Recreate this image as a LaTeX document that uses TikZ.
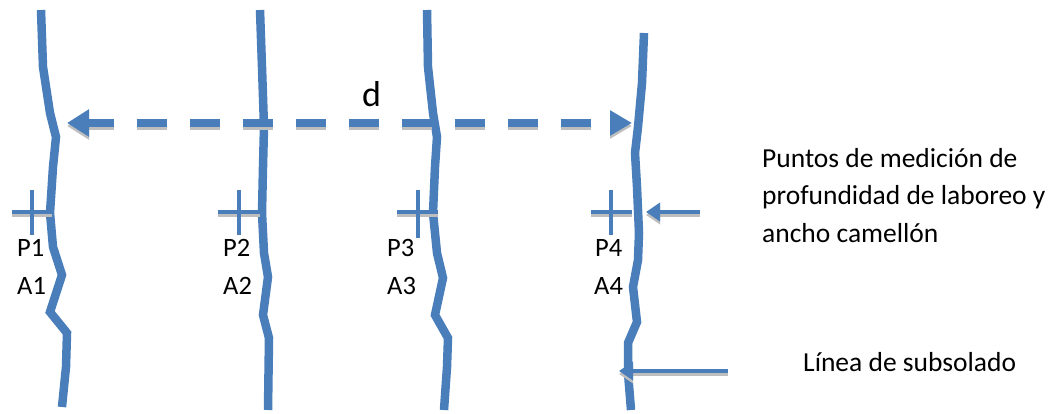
\documentclass[tikz,border=0pt]{standalone}
\usepackage{fontspec}
\setmainfont{Carlito}
\usetikzlibrary{arrows.meta}
\definecolor{lineblue}{RGB}{74,126,187}
\definecolor{shadowgray}{RGB}{190,190,190}
\tikzset{
  furrow/.style={draw=lineblue, line width=8.5pt},
  crossbar/.style={draw=lineblue, line width=4.2pt},
  crossshadow/.style={draw=shadowgray, line width=4.2pt},
  dimline/.style={draw=lineblue, line width=7.5pt, dash pattern=on 30pt off 23pt, dash phase=4pt,
    {Triangle[length=22pt,width=26pt]}-{Triangle[length=22pt,width=24pt]}},
  dimshadow/.style={draw=shadowgray, line width=7.5pt, dash pattern=on 30pt off 23pt, dash phase=4pt,
    {Triangle[length=22pt,width=26pt]}-{Triangle[length=22pt,width=24pt]}},
  pointer/.style={draw=lineblue, line width=4pt, -{Triangle[length=14pt,width=18pt]}},
  pointershadow/.style={draw=shadowgray, line width=4pt, -{Triangle[length=14pt,width=18pt]}},
  lbl/.style={inner sep=0pt, anchor=base west, font=\fontsize{26.5}{26.5}\selectfont},
  note/.style={inner sep=0pt, anchor=base west, font=\fontsize{27.5}{27.5}\selectfont},
}
\begin{document}
\begin{tikzpicture}[x=1pt,y=-1pt]
\useasboundingbox (0,0) rectangle (1052,414);
% furrow lines
\draw[furrow] (41,10) -- (43,67) -- (50,113) -- (56,137) -- (53,167) -- (50,213) -- (53,247) -- (62,275) -- (50,312) -- (67,333) -- (66,367) -- (62,407);
\draw[furrow] (260,10) -- (262,67) -- (264,127) -- (263,167) -- (262,213) -- (264,253) -- (268,277) -- (263,315) -- (269,338) -- (268,410);
\draw[furrow] (427,10) -- (428,67) -- (433,113) -- (437,137) -- (435,167) -- (433,213) -- (437,253) -- (443,278) -- (435,315) -- (448,338) -- (447,367) -- (444,410);
\draw[furrow] (644,33) -- (642,83) -- (638,127) -- (635,153) -- (637,187) -- (639,233) -- (638,260) -- (633,287) -- (637,322) -- (628,343) -- (628,373) -- (631,410);
% dimension arrow
\coordinate (dL) at (67,123);
\coordinate (dR) at (632,123);
\draw[dimshadow] ([yshift=-3pt]dL) -- ([yshift=-3pt]dR);
\draw[dimline] (dL) -- (dR);
\node[inner sep=0pt, anchor=base west, font=\fontsize{36}{36}\selectfont] (dlab) at (362,107) {d};
% measurement crosses
\foreach \hx/\hy/\vx/\vb [count=\i] in {12/52/32/235, 218/260/239/235, 397/438/418/238, 591/632/611/235}{
  \coordinate (h\i a) at (\hx,212);
  \coordinate (h\i b) at (\hy,212);
  \coordinate (v\i a) at (\vx,190);
  \coordinate (v\i b) at (\vx,\vb);
  \draw[crossshadow] ([yshift=-3pt]h\i a) -- ([yshift=-3pt]h\i b);
  \draw[crossbar] (h\i a) -- (h\i b);
  \draw[crossbar] (v\i a) -- (v\i b);
}
% labels P/A
\node[lbl] (p1) at (17,256) {P1};
\node[lbl] (a1) at (17,294) {A1};
\node[lbl] (p2) at (223,256) {P2};
\node[lbl] (a2) at (223,294) {A2};
\node[lbl] (p3) at (387,256) {P3};
\node[lbl] (a3) at (387,294) {A3};
\node[lbl] (p4) at (595,256) {P4};
\node[lbl] (a4) at (594,294) {A4};
% explanatory notes
\node[note] (n1) at (762,168) {Puntos de medición de};
\node[note] (n2) at (762,205) {profundidad de laboreo y};
\node[note] (n3) at (762,242) {ancho camellón};
\node[note] (n4) at (803,371) {Línea de subsolado};
% pointers
\coordinate (pt1s) at (700,212);
\coordinate (pt1e) at (646,212);
\draw[pointershadow] ([yshift=-3pt]pt1s) -- ([yshift=-3pt]pt1e);
\draw[pointer] (pt1s) -- (pt1e);
\coordinate (pt2s) at (728,371);
\coordinate (pt2e) at (619,371);
\draw[pointershadow] ([yshift=-3pt]pt2s) -- ([yshift=-3pt]pt2e);
\draw[pointer] (pt2s) -- (pt2e);
\end{tikzpicture}
\end{document}
